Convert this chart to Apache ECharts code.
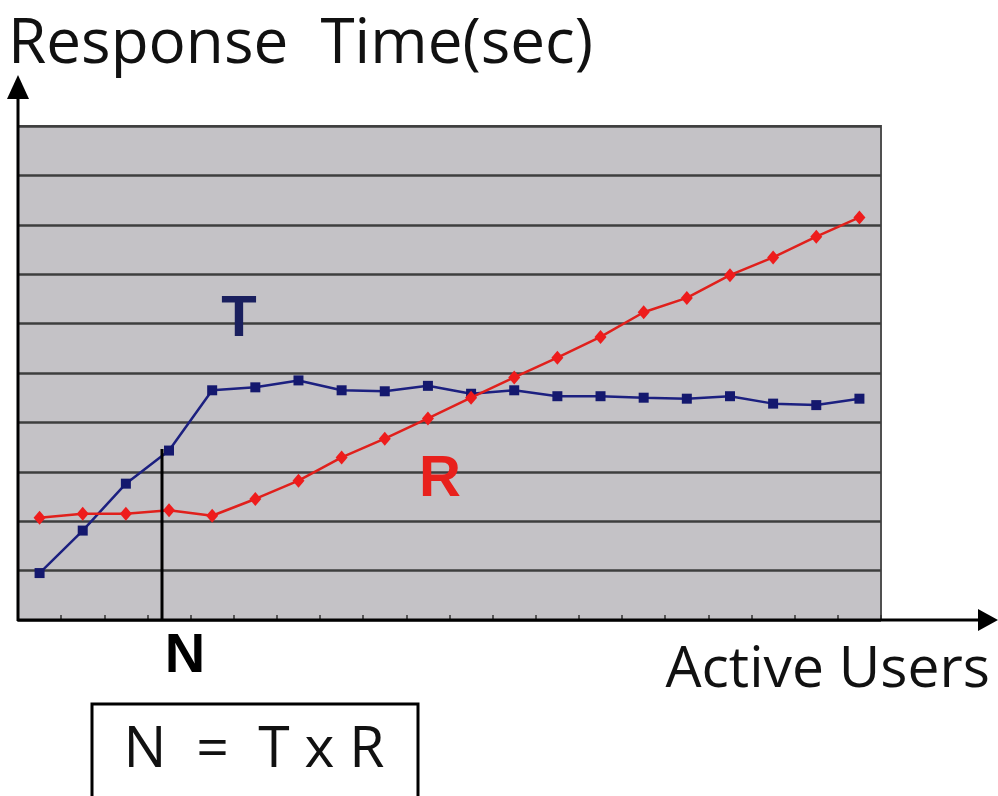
<!DOCTYPE html>
<html><head><meta charset="utf-8">
<script src="https://cdn.jsdelivr.net/npm/echarts@6/dist/echarts.min.js"></script>
<style>html,body{margin:0;padding:0;background:#fff}#c{width:998px;height:796px}</style>
</head><body><div id="c"></div>
<script>
const categories = ['1','2','3','4','5','6','7','8','9','10','11','12','13','14','15','16','17','18','19','20'];
const seriesT = [0.95, 1.81, 2.76, 3.43, 4.65, 4.71, 4.85, 4.65, 4.63, 4.74, 4.58, 4.65, 4.53, 4.53, 4.50, 4.48, 4.53, 4.38, 4.35, 4.48];
const seriesR = [2.07, 2.15, 2.15, 2.22, 2.11, 2.45, 2.82, 3.29, 3.67, 4.08, 4.50, 4.91, 5.31, 5.73, 6.23, 6.52, 6.98, 7.34, 7.76, 8.15];
const yMin = 0, yMax = 10, yInterval = 1;
const titleText = 'Response  Time(sec)';
const xTitleText = 'Active Users';
const formulaText = 'N  =  T x R';

const chart = echarts.init(document.getElementById('c'), null, {renderer: 'canvas'});
const sans = '"Open Sans", "Noto Sans", sans-serif';
const bold = '"Liberation Sans", Arial, sans-serif';
chart.setOption({
  animation: false,
  backgroundColor: '#ffffff',
  grid: {left: 18, right: 117, top: 126, bottom: 176, show: true,
         backgroundColor: '#c4c2c6', borderColor: '#505050', borderWidth: 2},
  xAxis: {type: 'category', data: categories, boundaryGap: true,
    axisLine: {show: false},
    axisTick: {show: true, inside: true, length: 5, lineStyle: {color: '#333', width: 1.5}},
    axisLabel: {show: false}, splitLine: {show: false}},
  yAxis: {type: 'value', min: yMin, max: yMax, interval: yInterval,
    axisLine: {show: false}, axisTick: {show: false}, axisLabel: {show: false},
    splitLine: {show: true, lineStyle: {color: '#3e3e3e', width: 2.5}}},
  series: [
    {name: 'T', type: 'line', data: seriesT, symbol: 'rect', symbolSize: 10,
     lineStyle: {color: '#1c2080', width: 2.5}, itemStyle: {color: '#14186e'}, z: 3},
    {name: 'R', type: 'line', data: seriesR, symbol: 'diamond', symbolSize: [12, 14],
     lineStyle: {color: '#e0201c', width: 2.5}, itemStyle: {color: '#ee1c1c'}, z: 4}
  ],
  graphic: [
    {type: 'line', shape: {x1: 18, y1: 621, x2: 18, y2: 95}, style: {stroke: '#000', lineWidth: 3}, z: 10},
    {type: 'polygon', shape: {points: [[18, 75], [7, 99], [29, 99]]}, style: {fill: '#000'}, z: 10},
    {type: 'line', shape: {x1: 17, y1: 620, x2: 982, y2: 620}, style: {stroke: '#000', lineWidth: 3}, z: 10},
    {type: 'polygon', shape: {points: [[998, 620], [978, 609], [978, 631]]}, style: {fill: '#000'}, z: 10},
    {type: 'line', shape: {x1: 162, y1: 449, x2: 162, y2: 620}, style: {stroke: '#000', lineWidth: 3}, z: 10},
    {type: 'text', x: 8, y: 45, style: {text: titleText, font: '62px ' + sans, fill: '#111', verticalAlign: 'middle', align: 'left'}, z: 10},
    {type: 'text', x: 990, y: 671, style: {text: xTitleText, font: '57px ' + sans, fill: '#111', verticalAlign: 'middle', align: 'right'}, z: 10},
    {type: 'rect', shape: {x: 92, y: 704, width: 326, height: 120}, style: {fill: '#fff', stroke: '#000', lineWidth: 3}, z: 10},
    {type: 'text', x: 254, y: 751, style: {text: formulaText, font: '57px ' + sans, fill: '#111', verticalAlign: 'middle', align: 'center'}, z: 11},
    {type: 'text', x: 185, y: 657, style: {text: 'N', font: 'bold 56px ' + bold, fill: '#000', verticalAlign: 'middle', align: 'center'}, z: 10},
    {type: 'text', x: 239, y: 320, style: {text: 'T', font: 'bold 58px ' + bold, fill: '#1a1f5e', verticalAlign: 'middle', align: 'center'}, z: 10},
    {type: 'text', x: 440, y: 480, style: {text: 'R', font: 'bold 58px ' + bold, fill: '#e8201c', verticalAlign: 'middle', align: 'center'}, z: 10}
  ]
});
</script></body></html>
